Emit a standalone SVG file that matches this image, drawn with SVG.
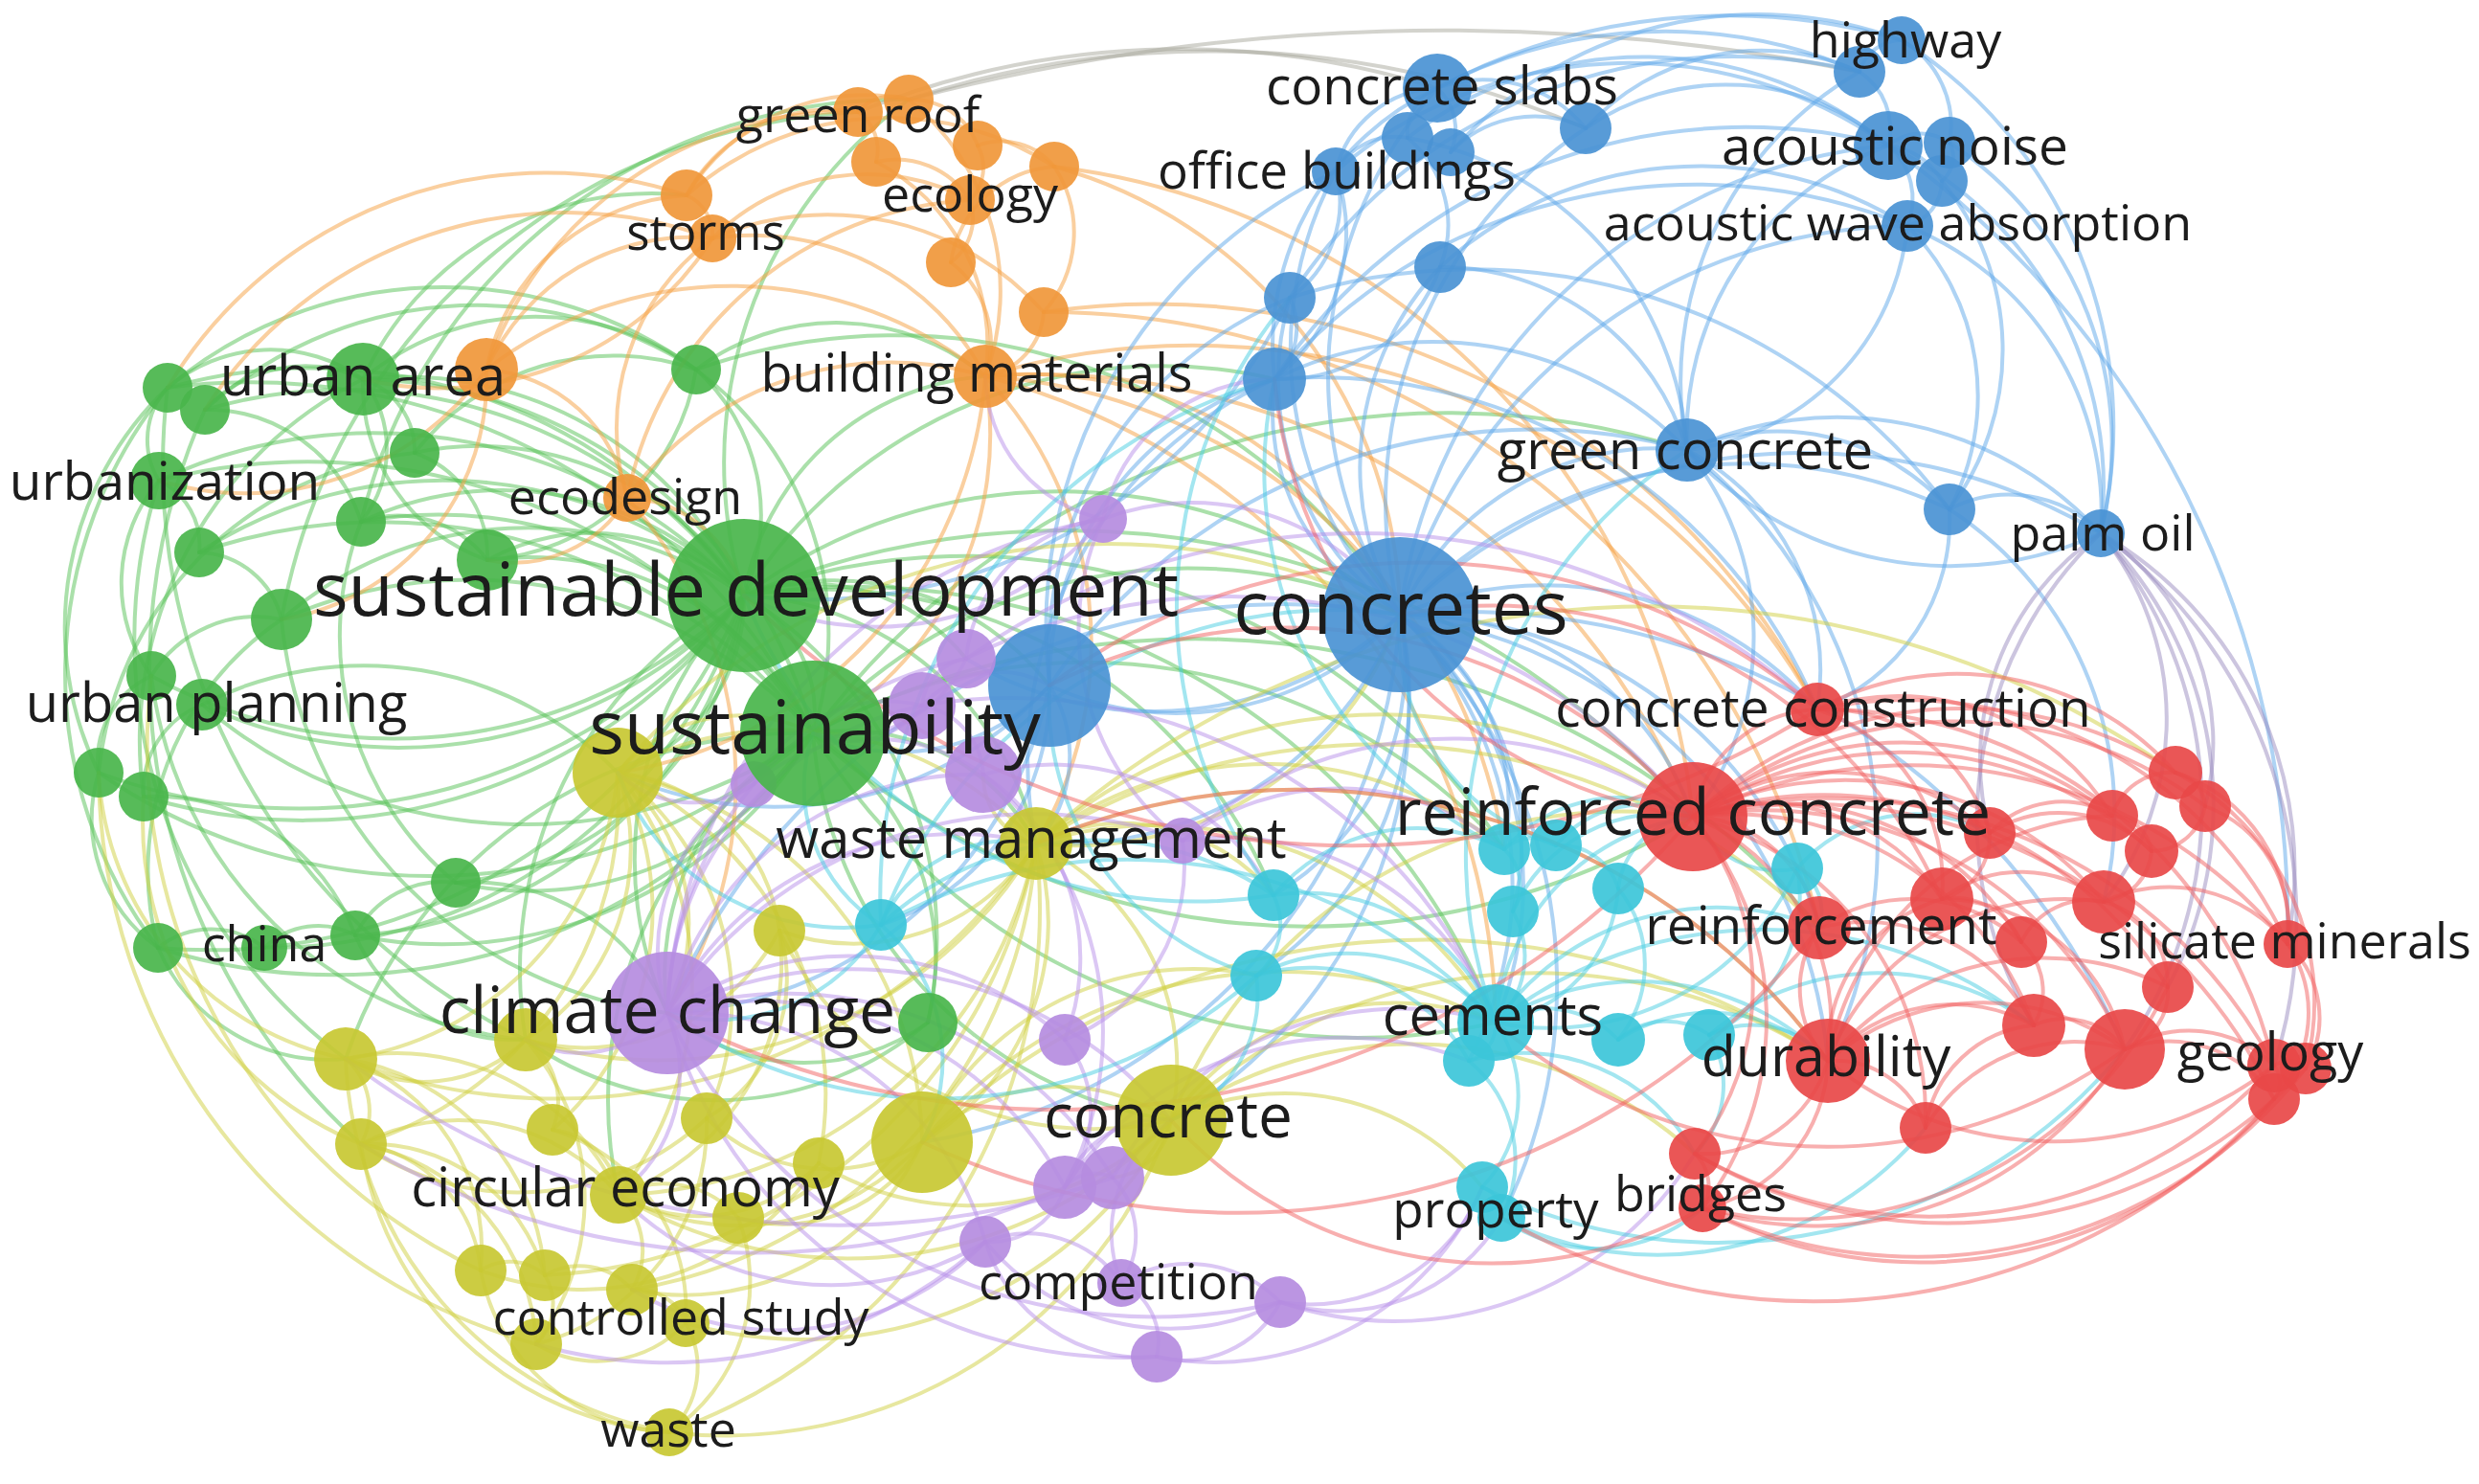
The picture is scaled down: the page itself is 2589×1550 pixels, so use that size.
<svg xmlns="http://www.w3.org/2000/svg" width="2589" height="1550" viewBox="0 0 2589 1550">
<style>
.e path{fill:none;stroke-width:4;stroke-opacity:.5;stroke-linecap:round}
.eG path{stroke:#55c255}.eO path{stroke:#f5a040}.eB path{stroke:#5ea8ea}.eY path{stroke:#d0d040}
.eP path{stroke:#b890ea}.eC path{stroke:#48cde2}.eR path{stroke:#f26060}.eM path{stroke:#9a8cc0}.eT path{stroke:#a8a89c}
circle{fill-opacity:.92}
.G circle{fill:#49b54b}.O circle{fill:#f0973a}.B circle{fill:#4a92d4}.Y circle{fill:#c8c832}
.P circle{fill:#b58ce0}.C circle{fill:#3cc5d9}.R circle{fill:#e84848}
text{font-family:"Open Sans","Noto Sans","DejaVu Sans",sans-serif;fill:#1c1c1c;text-anchor:middle}
</style>
<rect width="2589" height="1550" fill="#ffffff"/>
<g id="connectors" class="e">
<g class="eG">
<path d="M175 405A551 551 0 0 1 777 622"/><path d="M214 428A513 513 0 0 1 777 622"/><path d="M379 396A390 390 0 0 1 777 622"/><path d="M433 473A323 323 0 0 1 777 622"/><path d="M166 502A527 527 0 0 1 777 622"/><path d="M377 545A345 345 0 0 1 777 622"/><path d="M208 577A470 470 0 0 1 777 622"/><path d="M509 585A226 226 0 0 1 777 622"/><path d="M294 647A394 394 0 0 1 777 622"/><path d="M777 622A522 522 0 0 1 158 706"/><path d="M777 622A490 490 0 0 1 211 736"/><path d="M777 622A598 598 0 0 1 103 807"/><path d="M777 622A569 569 0 0 1 150 832"/><path d="M777 622A337 337 0 0 1 476 922"/><path d="M777 622A607 607 0 0 1 165 990"/><path d="M777 622A438 438 0 0 1 371 977"/><path d="M727 386A205 205 0 0 1 777 622"/><path d="M777 622A418 418 0 0 1 969 1068"/><path d="M777 622A518 518 0 0 1 276 990"/><path d="M777 622A138 138 0 0 1 849 766"/>
<path d="M175 405A654 654 0 0 1 849 766"/><path d="M379 396A494 494 0 0 1 849 766"/><path d="M166 502A631 631 0 0 1 849 766"/><path d="M377 545A448 448 0 0 1 849 766"/><path d="M208 577A574 574 0 0 1 849 766"/><path d="M294 647A482 482 0 0 1 849 766"/><path d="M849 766A520 520 0 0 1 211 736"/><path d="M849 766A610 610 0 0 1 103 807"/><path d="M849 766A619 619 0 0 1 165 990"/><path d="M849 766A348 348 0 0 1 476 922"/><path d="M849 766A450 450 0 0 1 371 977"/><path d="M849 766A280 280 0 0 1 969 1068"/><path d="M727 386A343 343 0 0 1 849 766"/><path d="M509 585A330 330 0 0 1 849 766"/>
<path d="M175 405A166 166 0 0 1 379 396"/><path d="M166 502A81 81 0 0 1 175 405"/><path d="M214 428A142 142 0 0 1 379 396"/><path d="M166 502A74 74 0 0 1 208 577"/><path d="M379 396A79 79 0 0 1 433 473"/><path d="M379 396A120 120 0 0 1 377 545"/><path d="M158 706A166 166 0 0 1 166 502"/><path d="M208 577A91 91 0 0 1 294 647"/><path d="M158 706A128 128 0 0 1 294 647"/><path d="M103 807A97 97 0 0 1 158 706"/><path d="M150 832A96 96 0 0 1 211 736"/><path d="M165 990A166 166 0 0 1 103 807"/><path d="M165 990A89 89 0 0 1 276 990"/><path d="M276 990A80 80 0 0 1 371 977"/><path d="M371 977A102 102 0 0 1 476 922"/><path d="M150 832A223 223 0 0 1 371 977"/><path d="M103 807A345 345 0 0 1 175 405"/><path d="M165 990A471 471 0 0 1 175 405"/><path d="M150 832A422 422 0 0 1 379 396"/><path d="M103 807A374 374 0 0 1 433 473"/><path d="M165 990A316 316 0 0 1 294 647"/><path d="M476 922A334 334 0 0 1 377 545"/><path d="M509 585A193 193 0 0 1 379 396"/><path d="M377 545A118 118 0 0 1 509 585"/><path d="M433 473A114 114 0 0 1 509 585"/><path d="M379 396A282 282 0 0 1 727 386"/><path d="M727 386A238 238 0 0 1 509 585"/>
<path d="M969 1068A221 221 0 0 1 697 1058"/><path d="M969 1068A343 343 0 0 1 549 1086"/><path d="M175 405A448 448 0 0 1 727 386"/><path d="M214 428A424 424 0 0 1 727 386"/><path d="M777 622A190 190 0 0 1 645 807"/><path d="M697 1058A391 391 0 0 1 777 622"/><path d="M697 1058A282 282 0 0 1 849 766"/><path d="M777 622A327 327 0 0 1 1082 881"/><path d="M849 766A223 223 0 0 1 1082 881"/><path d="M777 622A554 554 0 0 1 1462 642"/><path d="M849 766A530 530 0 0 1 1462 642"/><path d="M777 622A286 286 0 0 1 1096 716"/><path d="M1223 1170A443 443 0 0 1 849 766"/><path d="M777 622A275 275 0 0 1 1029 393"/><path d="M777 622A515 515 0 0 1 1331 396"/><path d="M777 622A866 866 0 0 1 1768 853"/><path d="M1768 853A763 763 0 0 1 849 766"/><path d="M1562 1068A667 667 0 0 1 849 766"/><path d="M549 1086A444 444 0 0 1 777 622"/><path d="M646 1248A450 450 0 0 1 849 766"/><path d="M777 622A470 470 0 0 1 949 104"/><path d="M379 396A332 332 0 0 1 717 204"/><path d="M361 1106A499 499 0 0 1 849 766"/><path d="M211 736A370 370 0 0 1 645 807"/><path d="M697 1058A458 458 0 0 1 294 647"/><path d="M476 922A220 220 0 0 1 697 1058"/><path d="M549 1086A183 183 0 0 1 371 977"/><path d="M361 1106A194 194 0 0 1 165 990"/><path d="M549 1086A434 434 0 0 1 158 706"/><path d="M777 622A206 206 0 0 1 1009 688"/><path d="M849 766A825 825 0 0 1 1762 470"/><path d="M727 386A244 244 0 0 1 1029 393"/><path d="M433 473A263 263 0 0 1 727 386"/><path d="M214 428A168 168 0 0 1 377 545"/>
<path d="M294 647A642 642 0 0 1 896 117"/><path d="M377 545A578 578 0 0 1 949 104"/><path d="M361 1106A546 546 0 0 1 166 502"/><path d="M377 1195A666 666 0 0 1 214 428"/><path d="M549 1086A665 665 0 0 1 175 405"/>
<path d="M777 622A670 670 0 0 1 1571 887"/><path d="M777 622A508 508 0 0 1 1330 935"/><path d="M849 766A586 586 0 0 1 1571 887"/><path d="M849 766A856 856 0 0 1 1900 969"/><path d="M727 386A622 622 0 0 1 1462 642"/><path d="M777 622A722 722 0 0 1 1562 1068"/>
</g>
<g class="eT">
<path d="M896 117A900 900 0 0 1 1501 92"/><path d="M949 104A1000 1000 0 0 1 1656 134"/><path d="M949 104A2200 2200 0 0 1 1942 75"/>
</g>
<g class="eO">
<path d="M896 117A46 46 0 0 1 949 104"/><path d="M949 104A73 73 0 0 1 1021 152"/><path d="M896 117A48 48 0 0 1 915 169"/><path d="M915 169A91 91 0 0 1 1013 209"/><path d="M1021 152A71 71 0 0 1 1101 174"/><path d="M1021 152A48 48 0 0 1 1013 209"/><path d="M1013 209A58 58 0 0 1 993 274"/><path d="M993 274A106 106 0 0 1 1029 393"/><path d="M1090 326A73 73 0 0 1 1029 393"/><path d="M1101 174A125 125 0 0 1 1090 326"/><path d="M949 104A257 257 0 0 1 1029 393"/><path d="M915 169A216 216 0 0 1 1029 393"/><path d="M717 204A218 218 0 0 1 949 104"/><path d="M717 204A45 45 0 0 1 744 249"/><path d="M744 249A274 274 0 0 1 1029 393"/><path d="M744 249A228 228 0 0 1 1013 209"/><path d="M508 386A226 226 0 0 1 717 204"/><path d="M508 386A397 397 0 0 1 896 117"/><path d="M508 386A419 419 0 0 1 1029 393"/><path d="M655 520A340 340 0 0 1 1029 393"/><path d="M655 520A246 246 0 0 1 744 249"/><path d="M655 520A386 386 0 0 1 1013 209"/><path d="M717 204A317 317 0 0 1 1101 174"/><path d="M744 249A339 339 0 0 1 379 396"/><path d="M508 386A310 310 0 0 1 166 502"/><path d="M508 386A254 254 0 0 1 294 647"/><path d="M655 520A130 130 0 0 1 777 622"/><path d="M655 520A138 138 0 0 1 509 585"/><path d="M1029 393A426 426 0 0 1 1462 642"/><path d="M1029 393A738 738 0 0 1 1768 853"/><path d="M1090 326A779 779 0 0 1 1898 741"/><path d="M1101 174A490 490 0 0 1 1462 642"/><path d="M1029 393A407 407 0 0 1 1082 881"/><path d="M1029 393A356 356 0 0 1 849 766"/><path d="M508 386A161 161 0 0 1 655 520"/><path d="M717 204A171 171 0 0 1 896 117"/><path d="M744 249A302 302 0 0 1 1090 326"/><path d="M993 274A118 118 0 0 1 1101 174"/><path d="M1029 393A454 454 0 0 1 645 807"/><path d="M655 520A444 444 0 0 1 697 1058"/><path d="M1029 393A710 710 0 0 1 1562 1068"/><path d="M508 386A233 233 0 0 1 744 249"/><path d="M175 405A462 462 0 0 1 717 204"/><path d="M214 428A448 448 0 0 1 744 249"/>
<path d="M1029 393A586 586 0 0 1 1571 887"/><path d="M1090 326A827 827 0 0 1 1900 969"/><path d="M1101 174A762 762 0 0 1 1768 853"/><path d="M1029 393A749 749 0 0 1 1898 741"/>
</g>
<g class="eB">
<path d="M1470 144A51 51 0 0 1 1501 92"/><path d="M1501 92A58 58 0 0 1 1515 159"/><path d="M1395 179A71 71 0 0 1 1470 144"/><path d="M1395 179A113 113 0 0 1 1501 92"/><path d="M1501 92A138 138 0 0 1 1656 134"/><path d="M1515 159A121 121 0 0 1 1656 134"/><path d="M1470 144A119 119 0 0 1 1504 279"/><path d="M1395 179A121 121 0 0 1 1347 311"/><path d="M1347 311A73 73 0 0 1 1331 396"/><path d="M1504 279A176 176 0 0 1 1331 396"/><path d="M1395 179A194 194 0 0 1 1331 396"/><path d="M1501 92A650 650 0 0 1 1986 42"/><path d="M1501 92A509 509 0 0 1 1942 75"/><path d="M1470 144A400 400 0 0 1 1972 152"/><path d="M1656 134A258 258 0 0 1 1972 152"/><path d="M1656 134A248 248 0 0 1 1942 75"/><path d="M1942 75A46 46 0 0 1 1986 42"/><path d="M1942 75A71 71 0 0 1 1972 152"/><path d="M1986 42A102 102 0 0 1 2036 149"/><path d="M1972 152A52 52 0 0 1 2036 149"/><path d="M1972 152A74 74 0 0 1 2028 189"/><path d="M1972 152A74 74 0 0 1 1992 236"/><path d="M2036 149A32 32 0 0 1 2028 189"/><path d="M2028 189A49 49 0 0 1 1992 236"/><path d="M1992 236A261 261 0 0 1 1762 470"/><path d="M1762 470A322 322 0 0 1 1972 152"/><path d="M1762 470A374 374 0 0 1 1942 75"/><path d="M1992 236A251 251 0 0 1 2036 532"/><path d="M2036 532A134 134 0 0 1 2194 557"/><path d="M1992 236A322 322 0 0 1 2194 557"/><path d="M2036 149A377 377 0 0 1 2194 557"/><path d="M1972 152A395 395 0 0 1 2194 557"/><path d="M2028 189A277 277 0 0 1 2036 532"/><path d="M1762 470A239 239 0 0 1 2036 532"/><path d="M1762 470A374 374 0 0 1 2194 557"/><path d="M2194 557A374 374 0 0 1 1762 470"/>
<path d="M1462 642A295 295 0 0 1 1762 470"/><path d="M1462 642A238 238 0 0 1 1331 396"/><path d="M1462 642A302 302 0 0 1 1347 311"/><path d="M1462 642A304 304 0 0 1 1504 279"/><path d="M1462 642A392 392 0 0 1 1395 179"/><path d="M1462 642A453 453 0 0 1 1501 92"/><path d="M1462 642A494 494 0 0 1 2036 532"/><path d="M1462 642A554 554 0 0 1 1992 236"/><path d="M1462 642A565 565 0 0 1 1972 152"/><path d="M1462 642A613 613 0 0 1 2194 557"/><path d="M1462 642A469 469 0 0 1 1656 134"/><path d="M1462 642A317 317 0 0 1 1096 716"/><path d="M1096 716A331 331 0 0 1 1331 396"/><path d="M1096 716A404 404 0 0 1 1347 311"/><path d="M1096 716A526 526 0 0 1 1395 179"/><path d="M1096 716A611 611 0 0 1 1762 470"/><path d="M1331 396A369 369 0 0 1 1762 470"/><path d="M1331 396A580 580 0 0 1 1992 236"/><path d="M1504 279A267 267 0 0 1 1762 470"/><path d="M1347 311A622 622 0 0 1 2036 532"/><path d="M1331 396A298 298 0 0 1 1501 92"/>
<path d="M1462 642A312 312 0 0 1 1768 853"/><path d="M1462 642A373 373 0 0 1 1562 1068"/><path d="M1462 642A277 277 0 0 1 1330 935"/><path d="M1462 642A231 231 0 0 1 1571 887"/><path d="M1462 642A286 286 0 0 1 1580 952"/><path d="M1462 642A396 396 0 0 1 1534 1108"/><path d="M1462 642A455 455 0 0 1 1900 969"/><path d="M1462 642A516 516 0 0 1 1909 1108"/><path d="M1462 642A381 381 0 0 1 1898 741"/><path d="M1462 642A381 381 0 0 1 1082 881"/><path d="M1462 642A499 499 0 0 1 1223 1170"/><path d="M1462 642A350 350 0 0 1 1312 1019"/><path d="M1462 642A538 538 0 0 1 1568 1272"/><path d="M1462 642A751 751 0 0 1 2219 1096"/><path d="M1462 642A377 377 0 0 1 1009 688"/><path d="M1096 716A214 214 0 0 1 849 766"/><path d="M1096 716A137 137 0 0 1 1082 881"/><path d="M1096 716A429 429 0 0 1 697 1058"/><path d="M1096 716A390 390 0 0 1 645 807"/><path d="M1096 716A256 256 0 0 1 920 966"/><path d="M2036 532A379 379 0 0 1 2197 942"/><path d="M2036 532A211 211 0 0 1 1898 741"/><path d="M1762 470A260 260 0 0 1 1898 741"/><path d="M1762 470A309 309 0 0 1 1768 853"/><path d="M1972 152A1000 1000 0 0 1 2389 986"/><path d="M1986 42A478 478 0 0 1 2194 557"/><path d="M1331 396A564 564 0 0 1 1898 741"/><path d="M1347 311A555 555 0 0 1 777 622"/><path d="M1504 279A404 404 0 0 1 1992 236"/><path d="M1331 396A591 591 0 0 1 1972 152"/><path d="M1395 179A470 470 0 0 1 1972 152"/><path d="M1347 311A551 551 0 0 1 1942 75"/><path d="M1470 144A354 354 0 0 1 1762 470"/><path d="M1515 159A430 430 0 0 1 1986 42"/>
<path d="M1462 642A595 595 0 0 1 963 1193"/><path d="M1462 642A697 697 0 0 0 697 1058"/><path d="M1331 396A436 436 0 0 0 1082 881"/><path d="M1762 470A524 524 0 0 1 1909 1108"/>
</g>
<g class="eM">
<path d="M2194 557A406 406 0 0 1 2389 986"/><path d="M2194 557A502 502 0 0 1 2375 1113"/><path d="M2194 557A263 263 0 0 1 2303 842"/><path d="M2194 557A309 309 0 0 1 2197 942"/><path d="M2194 557A439 439 0 0 1 2219 1096"/><path d="M2194 557A402 402 0 0 1 2264 1031"/><path d="M2194 557A414 414 0 0 0 2124 1071"/><path d="M2194 557A287 287 0 0 0 2078 870"/>
</g>
<g class="eY">
<path d="M645 807A236 236 0 0 1 549 1086"/><path d="M645 807A330 330 0 0 1 361 1106"/><path d="M645 807A303 303 0 0 1 577 1180"/><path d="M645 807A353 353 0 0 1 646 1248"/><path d="M645 807A298 298 0 0 1 738 1168"/><path d="M645 807A400 400 0 0 1 963 1193"/><path d="M645 807A354 354 0 0 1 1082 881"/><path d="M645 807A189 189 0 0 1 814 972"/><path d="M1082 881A267 267 0 0 1 963 1193"/><path d="M1082 881A257 257 0 0 1 1223 1170"/><path d="M1082 881A456 456 0 0 1 646 1248"/><path d="M1082 881A457 457 0 0 1 549 1086"/><path d="M1082 881A604 604 0 0 1 361 1106"/><path d="M1082 881A503 503 0 0 1 660 1347"/><path d="M1082 881A580 580 0 0 1 699 1496"/><path d="M1082 881A226 226 0 0 1 814 972"/><path d="M963 1193A257 257 0 0 1 646 1248"/><path d="M963 1193A181 181 0 0 1 738 1168"/><path d="M963 1193A272 272 0 0 1 660 1347"/><path d="M963 1193A209 209 0 0 1 1223 1170"/><path d="M963 1193A166 166 0 0 1 771 1272"/><path d="M1223 1170A466 466 0 0 1 646 1248"/><path d="M1223 1170A440 440 0 0 1 716 1382"/><path d="M1223 1170A494 494 0 0 1 699 1496"/>
<path d="M549 1086A151 151 0 0 1 361 1106"/><path d="M361 1106A72 72 0 0 1 377 1195"/><path d="M549 1086A78 78 0 0 1 577 1180"/><path d="M377 1195A146 146 0 0 1 502 1327"/><path d="M377 1195A219 219 0 0 1 646 1248"/><path d="M577 1180A78 78 0 0 1 646 1248"/><path d="M646 1248A102 102 0 0 1 771 1272"/><path d="M646 1248A80 80 0 0 1 660 1347"/><path d="M502 1327A54 54 0 0 1 569 1332"/><path d="M569 1332A73 73 0 0 1 660 1347"/><path d="M660 1347A53 53 0 0 1 716 1382"/><path d="M569 1332A58 58 0 0 1 560 1404"/><path d="M716 1382A126 126 0 0 1 560 1404"/><path d="M716 1382A92 92 0 0 1 699 1496"/><path d="M699 1496A208 208 0 0 1 502 1327"/><path d="M699 1496A353 353 0 0 1 377 1195"/><path d="M699 1496A413 413 0 0 1 361 1106"/><path d="M771 1272A188 188 0 0 1 699 1496"/><path d="M814 972A258 258 0 0 1 646 1248"/><path d="M814 972A168 168 0 0 1 738 1168"/><path d="M814 972A230 230 0 0 1 549 1086"/><path d="M855 1215A169 169 0 0 1 646 1248"/><path d="M855 1215A296 296 0 0 1 502 1327"/><path d="M738 1168A290 290 0 0 1 377 1195"/><path d="M738 1168A237 237 0 0 1 560 1404"/><path d="M549 1086A254 254 0 0 1 560 1404"/><path d="M361 1106A246 246 0 0 1 569 1332"/><path d="M577 1180A196 196 0 0 1 716 1382"/><path d="M1223 1170A297 297 0 0 1 855 1215"/><path d="M1223 1170A363 363 0 0 1 814 972"/><path d="M645 807A166 166 0 0 1 849 766"/><path d="M645 807A205 205 0 0 1 697 1058"/><path d="M645 807A377 377 0 0 1 377 1195"/><path d="M361 1106A210 210 0 0 1 502 1327"/>
<path d="M1082 881A412 412 0 0 1 1562 1068"/><path d="M1082 881A550 550 0 0 1 1768 853"/><path d="M1082 881A686 686 0 0 1 1909 1108"/><path d="M1082 881A203 203 0 0 1 1330 935"/><path d="M1082 881A73 73 0 0 1 1027 809"/><path d="M1223 1170A283 283 0 0 1 1562 1068"/><path d="M1223 1170A551 551 0 0 1 1909 1108"/><path d="M1223 1170A266 266 0 0 1 1548 1240"/><path d="M1223 1170A438 438 0 0 1 1770 1205"/><path d="M963 1193A490 490 0 0 1 1562 1068"/><path d="M1223 1170A69 69 0 0 1 1162 1230"/><path d="M645 807A367 367 0 0 1 855 1215"/><path d="M1082 881A546 546 0 0 1 569 1332"/><path d="M377 1195A222 222 0 0 1 560 1404"/><path d="M377 1195A189 189 0 0 1 569 1332"/><path d="M361 1106A254 254 0 0 1 646 1248"/><path d="M1082 881A658 658 0 0 1 1900 969"/><path d="M963 1193A760 760 0 0 1 1909 1108"/><path d="M1082 881A954 954 0 0 1 2272 807"/><path d="M361 1106A322 322 0 0 1 103 807"/><path d="M377 1195A363 363 0 0 1 150 832"/><path d="M502 1327A607 607 0 0 1 158 706"/><path d="M560 1404A624 624 0 0 1 103 807"/>
<path d="M1082 881A391 391 0 0 1 1571 887"/><path d="M1082 881A359 359 0 0 0 1462 642"/><path d="M963 1193A312 312 0 0 1 1312 1019"/><path d="M1223 1170A504 504 0 0 1 1768 853"/><path d="M645 807A667 667 0 0 1 1462 642"/>
</g>
<g class="eP">
<path d="M697 1058A204 204 0 0 1 787 819"/><path d="M697 1058A334 334 0 0 1 963 737"/><path d="M697 1058A331 331 0 0 1 1027 809"/><path d="M697 1058A333 333 0 0 1 1112 1086"/><path d="M697 1058A362 362 0 0 1 1112 1240"/><path d="M697 1058A327 327 0 0 1 1029 1297"/><path d="M697 1058A397 397 0 0 1 1162 1230"/><path d="M697 1058A387 387 0 0 1 1009 688"/><path d="M697 1058A550 550 0 0 1 1152 542"/><path d="M697 1058A454 454 0 0 1 1235 878"/><path d="M1337 1360A566 566 0 0 1 697 1058"/><path d="M1208 1417A499 499 0 0 1 697 1058"/><path d="M697 1058A121 121 0 0 1 549 1086"/><path d="M697 1058A158 158 0 0 1 646 1248"/><path d="M697 1058A339 339 0 0 1 1082 881"/><path d="M697 1058A430 430 0 0 1 1223 1170"/>
<path d="M963 737A54 54 0 0 1 1009 688"/><path d="M963 737A77 77 0 0 1 1027 809"/><path d="M1009 688A163 163 0 0 1 1152 542"/><path d="M1112 1086A123 123 0 0 1 1112 1240"/><path d="M1112 1240A41 41 0 0 1 1162 1230"/><path d="M1112 1240A81 81 0 0 1 1029 1297"/><path d="M1162 1230A88 88 0 0 1 1171 1340"/><path d="M1029 1297A119 119 0 0 1 1171 1340"/><path d="M1171 1340A68 68 0 0 1 1208 1417"/><path d="M1171 1340A134 134 0 0 1 1337 1360"/><path d="M1337 1360A113 113 0 0 1 1208 1417"/><path d="M1208 1417A172 172 0 0 1 1029 1297"/><path d="M1337 1360A251 251 0 0 1 1029 1297"/><path d="M1235 878A193 193 0 0 1 1112 1086"/><path d="M1235 878A277 277 0 0 1 1152 542"/><path d="M1027 809A351 351 0 0 1 1112 1240"/><path d="M1027 809A232 232 0 0 1 1112 1086"/><path d="M787 819A155 155 0 0 1 963 737"/><path d="M787 819A192 192 0 0 1 1027 809"/><path d="M1152 542A306 306 0 0 1 777 622"/><path d="M1152 542A155 155 0 0 1 1029 393"/><path d="M1235 878A302 302 0 0 1 1562 1068"/><path d="M1235 878A427 427 0 0 1 1768 853"/><path d="M1548 1240A194 194 0 0 1 1337 1360"/><path d="M1568 1272A198 198 0 0 1 1337 1360"/><path d="M1548 1240A306 306 0 0 1 1208 1417"/><path d="M1770 1205A368 368 0 0 1 1337 1360"/><path d="M1162 1230A345 345 0 0 1 1562 1068"/><path d="M1112 1240A354 354 0 0 1 1534 1108"/><path d="M963 737A108 108 0 0 1 1096 716"/><path d="M1009 688A142 142 0 0 1 849 766"/><path d="M963 737A94 94 0 0 1 849 766"/><path d="M1029 1297A298 298 0 0 1 660 1347"/><path d="M1029 1297A309 309 0 0 1 646 1248"/><path d="M1112 1240A105 105 0 0 1 1223 1170"/><path d="M1171 1340A142 142 0 0 1 1223 1170"/><path d="M787 819A114 114 0 0 1 645 807"/><path d="M1029 1297A500 500 0 0 1 560 1404"/><path d="M1112 1240A800 800 0 0 1 377 1195"/><path d="M1162 1230A850 850 0 0 1 361 1106"/><path d="M1152 542A185 185 0 0 1 1331 396"/><path d="M1009 688A712 712 0 0 1 1898 741"/>
<path d="M1152 542A261 261 0 0 1 1462 642"/><path d="M1009 688A621 621 0 0 1 1768 853"/><path d="M963 737A547 547 0 0 1 1562 1068"/><path d="M1027 809A262 262 0 0 1 1330 935"/><path d="M1235 878A269 269 0 0 1 1571 887"/>
</g>
<g class="eC">
<path d="M920 966A170 170 0 0 1 849 766"/><path d="M920 966A146 146 0 0 1 1082 881"/><path d="M920 966A520 520 0 0 1 1562 1068"/><path d="M920 966A329 329 0 0 1 1330 935"/><path d="M920 966A505 505 0 0 1 1462 642"/><path d="M1330 935A69 69 0 0 1 1312 1019"/><path d="M1330 935A197 197 0 0 1 1571 887"/><path d="M1330 935A214 214 0 0 1 1562 1068"/><path d="M1312 1019A204 204 0 0 1 1562 1068"/><path d="M1312 1019A191 191 0 0 1 1534 1108"/><path d="M1571 887A43 43 0 0 1 1625 883"/><path d="M1571 887A52 52 0 0 1 1580 952"/><path d="M1625 883A63 63 0 0 1 1690 928"/><path d="M1580 952A94 94 0 0 1 1562 1068"/><path d="M1690 928A152 152 0 0 1 1562 1068"/><path d="M1690 928A126 126 0 0 1 1690 1086"/><path d="M1877 907A158 158 0 0 1 1785 1081"/><path d="M1877 907A283 283 0 0 1 1562 1068"/><path d="M1562 1068A40 40 0 0 1 1534 1108"/><path d="M1562 1068A103 103 0 0 1 1690 1086"/><path d="M1690 1086A76 76 0 0 1 1785 1081"/><path d="M1562 1068A138 138 0 0 1 1548 1240"/><path d="M1548 1240A30 30 0 0 1 1568 1272"/><path d="M1534 1108A134 134 0 0 1 1568 1272"/><path d="M1562 1068A238 238 0 0 1 1768 853"/><path d="M1562 1068A279 279 0 0 1 1909 1108"/><path d="M1562 1068A282 282 0 0 1 1900 969"/><path d="M1877 907A98 98 0 0 1 1768 853"/><path d="M1877 907A53 53 0 0 1 1900 969"/><path d="M1785 1081A102 102 0 0 1 1909 1108"/><path d="M1785 1081A100 100 0 0 1 1770 1205"/><path d="M1778 1262A168 168 0 0 1 1568 1272"/><path d="M2219 1096A549 549 0 0 1 1548 1240"/><path d="M1625 883A117 117 0 0 1 1768 853"/><path d="M1571 887A160 160 0 0 1 1768 853"/><path d="M1580 952A170 170 0 0 1 1768 853"/><path d="M1690 928A86 86 0 0 1 1768 853"/><path d="M1312 1019A140 140 0 0 1 1223 1170"/><path d="M920 966A185 185 0 0 1 963 1193"/><path d="M920 966A196 196 0 0 1 697 1058"/><path d="M920 966A254 254 0 0 1 645 807"/><path d="M1534 1108A204 204 0 0 1 1770 1205"/><path d="M1562 1068A450 450 0 0 1 2124 1071"/><path d="M1330 935A508 508 0 0 1 777 622"/><path d="M1312 1019A493 493 0 0 1 697 1058"/><path d="M1877 907A163 163 0 0 1 2078 870"/><path d="M1690 1086A176 176 0 0 1 1909 1108"/><path d="M1785 1081A271 271 0 0 1 2124 1071"/><path d="M1562 1068A504 504 0 0 1 1762 470"/><path d="M1571 887A437 437 0 0 1 1331 396"/><path d="M1625 883A233 233 0 0 1 1462 642"/><path d="M2011 1178A362 362 0 0 1 1568 1272"/>
<path d="M920 966A562 562 0 0 1 1331 396"/><path d="M1330 935A500 500 0 0 1 1347 311"/><path d="M1312 1019A298 298 0 0 1 1096 716"/>
</g>
<g class="eR">
<path d="M1768 853A137 137 0 0 1 1898 741"/><path d="M1768 853A248 248 0 0 1 2078 870"/><path d="M1768 853A219 219 0 0 1 2028 939"/><path d="M1768 853A141 141 0 0 1 1900 969"/><path d="M1768 853A294 294 0 0 1 2111 984"/><path d="M1768 853A350 350 0 0 1 2206 852"/><path d="M1768 853A405 405 0 0 1 2272 807"/><path d="M1768 853A428 428 0 0 1 2303 842"/><path d="M1768 853A384 384 0 0 1 2247 889"/><path d="M1768 853A350 350 0 0 1 2197 942"/><path d="M1768 853A508 508 0 0 1 2389 986"/><path d="M1768 853A422 422 0 0 1 2264 1031"/><path d="M1768 853A334 334 0 0 1 2124 1071"/><path d="M1768 853A410 410 0 0 1 2219 1096"/><path d="M1768 853A528 528 0 0 1 2375 1113"/><path d="M1768 853A233 233 0 0 1 1909 1108"/><path d="M1768 853A325 325 0 0 1 2011 1178"/><path d="M1768 853A282 282 0 0 1 1770 1205"/><path d="M1768 853A327 327 0 0 1 1778 1262"/><path d="M1768 853A540 540 0 0 1 2375 1148"/>
<path d="M1909 1108A166 166 0 0 1 2028 939"/><path d="M1909 1108A111 111 0 0 1 1900 969"/><path d="M1909 1108A174 174 0 0 1 2124 1071"/><path d="M1909 1108A248 248 0 0 1 2219 1096"/><path d="M1909 1108A99 99 0 0 1 2011 1178"/><path d="M1909 1108A136 136 0 0 1 1770 1205"/><path d="M1909 1108A162 162 0 0 1 1778 1262"/><path d="M2375 1113A373 373 0 0 1 1909 1108"/><path d="M1909 1108A290 290 0 0 1 2264 1031"/><path d="M1909 1108A266 266 0 0 1 2197 942"/><path d="M1909 1108A314 314 0 0 1 2206 852"/>
<path d="M1898 741A177 177 0 0 1 2078 870"/><path d="M1898 741A304 304 0 0 1 2272 807"/><path d="M1898 741A262 262 0 0 1 2206 852"/><path d="M1898 741A190 190 0 0 1 2028 939"/><path d="M2078 870A68 68 0 0 1 2028 939"/><path d="M2078 870A103 103 0 0 1 2206 852"/><path d="M2206 852A64 64 0 0 1 2272 807"/><path d="M2272 807A38 38 0 0 1 2303 842"/><path d="M2303 842A58 58 0 0 1 2247 889"/><path d="M2247 889A58 58 0 0 1 2197 942"/><path d="M2206 852A44 44 0 0 1 2247 889"/><path d="M2197 942A89 89 0 0 1 2264 1031"/><path d="M2197 942A158 158 0 0 1 2389 986"/><path d="M2303 842A134 134 0 0 1 2389 986"/><path d="M2389 986A105 105 0 0 1 2408 1116"/><path d="M2264 1031A63 63 0 0 1 2219 1096"/><path d="M2124 1071A78 78 0 0 1 2219 1096"/><path d="M2219 1096A126 126 0 0 1 2375 1113"/><path d="M2375 1113A26 26 0 0 1 2408 1116"/><path d="M2375 1113A28 28 0 0 1 2375 1148"/><path d="M2219 1096A131 131 0 0 1 2375 1148"/><path d="M2111 984A70 70 0 0 1 2124 1071"/><path d="M2028 939A76 76 0 0 1 2111 984"/><path d="M2111 984A77 77 0 0 1 2197 942"/><path d="M2011 1178A125 125 0 0 1 2124 1071"/><path d="M2011 1178A179 179 0 0 1 2219 1096"/><path d="M1770 1205A46 46 0 0 1 1778 1262"/><path d="M2408 1116A518 518 0 0 1 1778 1262"/><path d="M2375 1148A486 486 0 0 1 1778 1262"/><path d="M2375 1113A490 490 0 0 1 1770 1205"/><path d="M2408 1116A515 515 0 0 1 1770 1205"/><path d="M2375 1148A653 653 0 0 1 1568 1272"/><path d="M2219 1096A377 377 0 0 1 1778 1262"/><path d="M2264 1031A430 430 0 0 1 1778 1262"/><path d="M2389 986A130 130 0 0 1 2375 1148"/><path d="M2272 807A171 171 0 0 1 2389 986"/><path d="M2272 807A270 270 0 0 1 2408 1116"/><path d="M1898 741A439 439 0 0 1 2389 986"/><path d="M1898 741A484 484 0 0 1 2375 1113"/><path d="M2078 870A136 136 0 0 1 2247 889"/><path d="M2028 939A135 135 0 0 1 2197 942"/><path d="M1900 969A197 197 0 0 1 2124 1071"/><path d="M1900 969A169 169 0 0 1 2111 984"/><path d="M2028 939A198 198 0 0 1 2219 1096"/><path d="M1768 853A872 872 0 0 1 697 1058"/><path d="M1768 853A506 506 0 0 1 1331 396"/><path d="M1898 741A902 902 0 0 1 777 622"/><path d="M1900 969A770 770 0 0 1 963 1193"/><path d="M1778 1262A450 450 0 0 1 1223 1170"/><path d="M2219 1096A526 526 0 0 1 1562 1068"/>
<path d="M1768 853A549 549 0 0 0 1096 716"/><path d="M1909 1108A686 686 0 0 0 1082 881"/><path d="M2028 939A511 511 0 0 0 1462 642"/><path d="M1898 741A642 642 0 0 0 1096 716"/>
</g>
</g>
<g id="nodes">
<g id="node-g1" class="G"><circle cx="175" cy="405" r="26"/></g>
<g id="node-g2" class="G"><circle cx="214" cy="428" r="26"/></g>
<g id="node-g4" class="G"><circle cx="433" cy="473" r="26"/></g>
<g id="node-g6" class="G"><circle cx="377" cy="545" r="26"/></g>
<g id="node-g7" class="G"><circle cx="208" cy="577" r="26"/></g>
<g id="node-g8" class="G"><circle cx="509" cy="585" r="32"/></g>
<g id="node-g9" class="G"><circle cx="294" cy="647" r="32"/></g>
<g id="node-g10" class="G"><circle cx="158" cy="706" r="26"/></g>
<g id="node-g12" class="G"><circle cx="103" cy="807" r="26"/></g>
<g id="node-g13" class="G"><circle cx="150" cy="832" r="26"/></g>
<g id="node-g14" class="G"><circle cx="476" cy="922" r="26"/></g>
<g id="node-g15" class="G"><circle cx="165" cy="990" r="26"/></g>
<g id="node-g16" class="G"><circle cx="371" cy="977" r="26"/></g>
<g id="node-g17" class="G"><circle cx="727" cy="386" r="26"/></g>
<g id="node-g18" class="G"><circle cx="969" cy="1068" r="31"/></g>
<g id="node-o1" class="O"><circle cx="949" cy="104" r="26"/></g>
<g id="node-o3" class="O"><circle cx="915" cy="169" r="26"/></g>
<g id="node-o4" class="O"><circle cx="1021" cy="152" r="26"/></g>
<g id="node-o5" class="O"><circle cx="1101" cy="174" r="26"/></g>
<g id="node-o7" class="O"><circle cx="993" cy="274" r="26"/></g>
<g id="node-o8" class="O"><circle cx="1090" cy="326" r="26"/></g>
<g id="node-o10" class="O"><circle cx="717" cy="204" r="27"/></g>
<g id="node-o12" class="O"><circle cx="508" cy="386" r="33"/></g>
<g id="node-b2" class="B"><circle cx="1470" cy="144" r="27"/></g>
<g id="node-b3" class="B"><circle cx="1515" cy="159" r="25"/></g>
<g id="node-b5" class="B"><circle cx="1656" cy="134" r="27"/></g>
<g id="node-b6" class="B"><circle cx="1504" cy="279" r="27"/></g>
<g id="node-b7" class="B"><circle cx="1347" cy="311" r="27"/></g>
<g id="node-b8" class="B"><circle cx="1331" cy="396" r="33"/></g>
<g id="node-b10" class="B"><circle cx="1942" cy="75" r="27"/></g>
<g id="node-b12" class="B"><circle cx="2036" cy="149" r="27"/></g>
<g id="node-b13" class="B"><circle cx="2028" cy="189" r="27"/></g>
<g id="node-b16" class="B"><circle cx="2036" cy="532" r="27"/></g>
<g id="node-b18" class="B"><circle cx="1096" cy="716" r="64"/></g>
<g id="node-p1" class="P"><circle cx="1152" cy="542" r="25"/></g>
<g id="node-p2" class="P"><circle cx="1009" cy="688" r="31"/></g>
<g id="node-p3" class="P"><circle cx="963" cy="737" r="35"/></g>
<g id="node-p4" class="P"><circle cx="1027" cy="809" r="40"/></g>
<g id="node-p5" class="P"><circle cx="787" cy="819" r="24"/></g>
<g id="node-p6" class="P"><circle cx="1235" cy="878" r="24"/></g>
<g id="node-p7" class="P"><circle cx="1112" cy="1086" r="27"/></g>
<g id="node-p8" class="P"><circle cx="1112" cy="1240" r="33"/></g>
<g id="node-p9" class="P"><circle cx="1162" cy="1230" r="33"/></g>
<g id="node-p10" class="P"><circle cx="1029" cy="1297" r="27"/></g>
<g id="node-p12" class="P"><circle cx="1337" cy="1360" r="27"/></g>
<g id="node-p13" class="P"><circle cx="1208" cy="1417" r="27"/></g>
<g id="node-y1" class="Y"><circle cx="645" cy="807" r="47"/></g>
<g id="node-y2" class="Y"><circle cx="814" cy="972" r="27"/></g>
<g id="node-y3" class="Y"><circle cx="549" cy="1086" r="33"/></g>
<g id="node-y4" class="Y"><circle cx="361" cy="1106" r="33"/></g>
<g id="node-y5" class="Y"><circle cx="377" cy="1195" r="27"/></g>
<g id="node-y6" class="Y"><circle cx="577" cy="1180" r="27"/></g>
<g id="node-y7" class="Y"><circle cx="738" cy="1168" r="27"/></g>
<g id="node-y8" class="Y"><circle cx="855" cy="1215" r="27"/></g>
<g id="node-y10" class="Y"><circle cx="771" cy="1272" r="27"/></g>
<g id="node-y11" class="Y"><circle cx="502" cy="1327" r="27"/></g>
<g id="node-y12" class="Y"><circle cx="569" cy="1332" r="27"/></g>
<g id="node-y13" class="Y"><circle cx="660" cy="1347" r="27"/></g>
<g id="node-y15" class="Y"><circle cx="560" cy="1404" r="27"/></g>
<g id="node-y17" class="Y"><circle cx="963" cy="1193" r="53"/></g>
<g id="node-c1" class="C"><circle cx="920" cy="966" r="27"/></g>
<g id="node-c2" class="C"><circle cx="1330" cy="935" r="27"/></g>
<g id="node-c3" class="C"><circle cx="1312" cy="1019" r="27"/></g>
<g id="node-c4" class="C"><circle cx="1571" cy="887" r="27"/></g>
<g id="node-c5" class="C"><circle cx="1625" cy="883" r="27"/></g>
<g id="node-c6" class="C"><circle cx="1580" cy="952" r="27"/></g>
<g id="node-c7" class="C"><circle cx="1690" cy="928" r="27"/></g>
<g id="node-c8" class="C"><circle cx="1877" cy="907" r="27"/></g>
<g id="node-c9" class="C"><circle cx="1534" cy="1108" r="27"/></g>
<g id="node-c10" class="C"><circle cx="1690" cy="1086" r="28"/></g>
<g id="node-c11" class="C"><circle cx="1785" cy="1081" r="27"/></g>
<g id="node-c12" class="C"><circle cx="1548" cy="1240" r="27"/></g>
<g id="node-r2" class="R"><circle cx="2078" cy="870" r="27"/></g>
<g id="node-r3" class="R"><circle cx="2028" cy="939" r="33"/></g>
<g id="node-r5" class="R"><circle cx="2111" cy="984" r="27"/></g>
<g id="node-r6" class="R"><circle cx="2206" cy="852" r="27"/></g>
<g id="node-r7" class="R"><circle cx="2272" cy="807" r="28"/></g>
<g id="node-r8" class="R"><circle cx="2303" cy="842" r="27"/></g>
<g id="node-r9" class="R"><circle cx="2247" cy="889" r="28"/></g>
<g id="node-r10" class="R"><circle cx="2197" cy="942" r="33"/></g>
<g id="node-r12" class="R"><circle cx="2264" cy="1031" r="27"/></g>
<g id="node-r13" class="R"><circle cx="2124" cy="1071" r="33"/></g>
<g id="node-r14" class="R"><circle cx="2219" cy="1096" r="42"/></g>
<g id="node-r16" class="R"><circle cx="2408" cy="1116" r="27"/></g>
<g id="node-r17" class="R"><circle cx="2375" cy="1148" r="27"/></g>
<g id="node-r18" class="R"><circle cx="2011" cy="1178" r="27"/></g>
<g id="node-r19" class="R"><circle cx="1770" cy="1205" r="27"/></g>

<g id="node-sustainable-development" class="G"><circle cx="777" cy="622" r="80"/><text x="779" y="643" font-size="77">sustainable development</text></g>
<g id="node-sustainability" class="G"><circle cx="849" cy="766" r="76"/><text x="851" y="787" font-size="77">sustainability</text></g>
<g id="node-concretes" class="B"><circle cx="1462" cy="642" r="81"/><text x="1463" y="662" font-size="77">concretes</text></g>
<g id="node-climate-change" class="P"><circle cx="697" cy="1058" r="64"/><text x="697" y="1079" font-size="68">climate change</text></g>
<g id="node-reinforced-concrete" class="R"><circle cx="1768" cy="853" r="57"/><text x="1768" y="872" font-size="68">reinforced concrete</text></g>
<g id="node-concrete" class="Y"><circle cx="1223" cy="1170" r="58"/><text x="1220" y="1188" font-size="64">concrete</text></g>
<g id="node-waste-management" class="Y"><circle cx="1082" cy="881" r="38"/><text x="1077" y="896" font-size="58">waste management</text></g>
<g id="node-cements" class="C"><circle cx="1562" cy="1068" r="40"/><text x="1559" y="1081" font-size="58">cements</text></g>
<g id="node-durability" class="R"><circle cx="1909" cy="1108" r="44"/><text x="1907" y="1124" font-size="59">durability</text></g>
<g id="node-urban-area" class="G"><circle cx="379" cy="396" r="38"/><text x="379" y="413" font-size="58">urban area</text></g>
<g id="node-urbanization" class="G"><circle cx="166" cy="502" r="30"/><text x="172" y="522" font-size="55">urbanization</text></g>
<g id="node-urban-planning" class="G"><circle cx="211" cy="736" r="27"/><text x="226" y="754" font-size="56">urban planning</text></g>
<g id="node-china" class="G"><circle cx="276" cy="990" r="24"/><text x="276" y="1004" font-size="52">china</text></g>
<g id="node-green-roof" class="O"><circle cx="896" cy="117" r="26"/><text x="896" y="138" font-size="52">green roof</text></g>
<g id="node-storms" class="O"><circle cx="744" cy="249" r="25"/><text x="737" y="261" font-size="51">storms</text></g>
<g id="node-ecology" class="O"><circle cx="1013" cy="209" r="26"/><text x="1013" y="221" font-size="52">ecology</text></g>
<g id="node-building-materials" class="O"><circle cx="1029" cy="393" r="33"/><text x="1020" y="409" font-size="54">building materials</text></g>
<g id="node-ecodesign" class="O"><circle cx="655" cy="520" r="25"/><text x="653" y="537" font-size="52">ecodesign</text></g>
<g id="node-circular-economy" class="Y"><circle cx="646" cy="1248" r="30"/><text x="653" y="1260" font-size="56">circular economy</text></g>
<g id="node-controlled-study" class="Y"><circle cx="716" cy="1382" r="25"/><text x="711" y="1394" font-size="52">controlled study</text></g>
<g id="node-waste" class="Y"><circle cx="699" cy="1496" r="25"/><text x="698" y="1511" font-size="52">waste</text></g>
<g id="node-competition" class="P"><circle cx="1171" cy="1340" r="25"/><text x="1168" y="1357" font-size="52">competition</text></g>
<g id="node-concrete-slabs" class="B"><circle cx="1501" cy="92" r="36"/><text x="1506" y="109" font-size="55">concrete slabs</text></g>
<g id="node-office-buildings" class="B"><circle cx="1395" cy="179" r="25"/><text x="1396" y="197" font-size="53">office buildings</text></g>
<g id="node-highway" class="B"><circle cx="1986" cy="42" r="25"/><text x="1990" y="60" font-size="52">highway</text></g>
<g id="node-acoustic-noise" class="B"><circle cx="1972" cy="152" r="36"/><text x="1979" y="172" font-size="55">acoustic noise</text></g>
<g id="node-acoustic-wave-absorption" class="B"><circle cx="1992" cy="236" r="27"/><text x="1982" y="251" font-size="52">acoustic wave absorption</text></g>
<g id="node-green-concrete" class="B"><circle cx="1762" cy="470" r="33"/><text x="1760" y="490" font-size="56">green concrete</text></g>
<g id="node-palm-oil" class="B"><circle cx="2194" cy="557" r="25"/><text x="2196" y="575" font-size="52">palm oil</text></g>
<g id="node-concrete-construction" class="R"><circle cx="1898" cy="741" r="28"/><text x="1904" y="759" font-size="55">concrete construction</text></g>
<g id="node-reinforcement" class="R"><circle cx="1900" cy="969" r="33"/><text x="1902" y="986" font-size="55">reinforcement</text></g>
<g id="node-silicate-minerals" class="R"><circle cx="2389" cy="986" r="25"/><text x="2386" y="1001" font-size="52">silicate minerals</text></g>
<g id="node-geology" class="R"><circle cx="2375" cy="1113" r="28"/><text x="2371" y="1118" font-size="54">geology</text></g>
<g id="node-bridges" class="R"><circle cx="1778" cy="1262" r="25"/><text x="1776" y="1265" font-size="52">bridges</text></g>
<g id="node-property" class="C"><circle cx="1568" cy="1272" r="25"/><text x="1562" y="1282" font-size="53">property</text></g>
</g>
</svg>
